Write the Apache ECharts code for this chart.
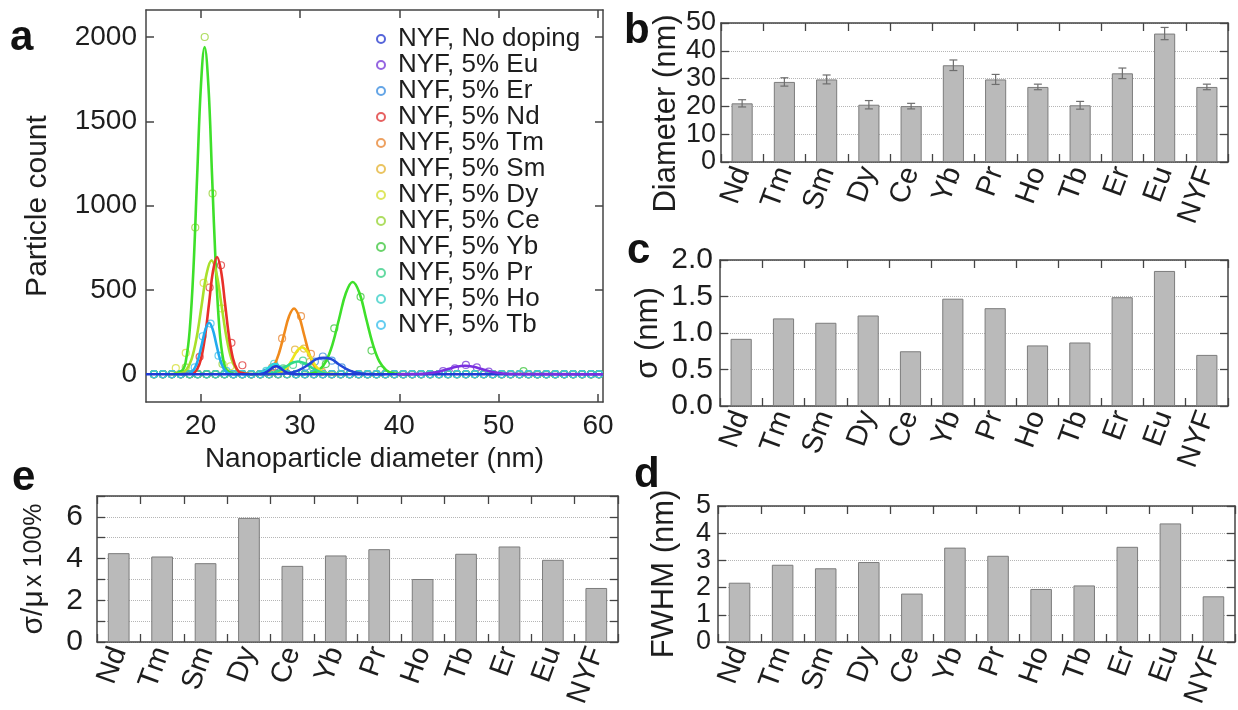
<!DOCTYPE html>
<html><head><meta charset="utf-8">
<script src="https://cdn.jsdelivr.net/npm/echarts@6/dist/echarts.min.js"></script>
<style>html,body{margin:0;padding:0;background:#fff}#c{width:1238px;height:710px}</style>
</head><body><div id="c"></div>
<script>
// ---------- bar panels data ----------
const elements = ['Nd','Tm','Sm','Dy','Ce','Yb','Pr','Ho','Tb','Er','Eu','NYF'];
const diameter = [21.1, 28.8, 29.7, 20.6, 20.1, 34.8, 29.7, 27.0, 20.4, 31.9, 46.2, 27.0];
const diameterErr = [1.3, 1.5, 1.6, 1.5, 1.0, 1.9, 1.8, 1.0, 1.4, 1.9, 2.2, 1.0];
const sigma = [0.92, 1.20, 1.14, 1.24, 0.75, 1.47, 1.34, 0.83, 0.87, 1.49, 1.85, 0.70];
const cvPercent = [4.26, 4.10, 3.78, 5.95, 3.65, 4.15, 4.45, 3.02, 4.23, 4.58, 3.94, 2.59];
const fwhm = [2.18, 2.84, 2.71, 2.94, 1.78, 3.47, 3.17, 1.95, 2.08, 3.50, 4.36, 1.68];

// ---------- panel a data ----------
const seriesNames = ['NYF, No doping','NYF, 5% Eu','NYF, 5% Er','NYF, 5% Nd','NYF, 5% Tm','NYF, 5% Sm',
  'NYF, 5% Dy','NYF, 5% Ce','NYF, 5% Yb','NYF, 5% Pr','NYF, 5% Ho','NYF, 5% Tb'];
const xTicksA = [20, 30, 40, 50, 60];
const yTicksA = [0, 500, 1000, 1500, 2000];
const baselineX = [15.3,16.2,17.1,18.0,18.9,19.7,20.6,21.5,22.4,23.3,24.2,25.1,26.0,26.9,27.8,28.7,29.6,30.5,
  31.4,32.3,33.2,34.1,35.0,35.9,36.8,37.7,38.6,39.5,40.4,41.3,42.2,43.1,44.0,44.9,45.8,46.7,47.6,48.5,49.4,
  50.3,51.2,52.1,53.0,53.9,54.8,55.7,56.6,57.5,58.4,59.3,60.1];

// histogram points (non-zero part), per series
const ptsNoDoping = [[26.6,10],[27.5,45],[28.4,22]];
const ptsEu = [[44.4,18],[45.6,35],[46.7,55],[47.8,40],[49.0,15]];
const ptsEr = [[30.6,45],[31.5,75],[32.3,105],[33.2,80],[34.2,40]];
const ptsNd = [[19.9,103],[20.9,514],[22.05,646],[23.1,186],[24.2,53]];
const ptsTm = [[27.2,40],[28.2,212],[30.1,344],[31.1,120],[32.2,15]];
const ptsSm = [[28.5,30],[29.5,146],[30.4,152],[31.0,73],[32.0,15]];
const ptsDy = [[17.5,36],[18.5,126],[20.3,541],[22.1,390],[23.0,47]];
const ptsCe = [[18.5,40],[19.46,870],[20.41,2000],[21.2,1072],[22.2,60]];
const ptsYb = [[32.6,60],[33.45,272],[36.1,459],[37.2,140],[38.1,25],[52.5,18]];
const ptsPr = [[28.3,35],[29.3,55],[30.3,80],[31.3,40]];
const ptsHo = [[26.6,20],[27.4,62],[28.3,25]];
const ptsTb = [[19.4,40],[20.2,225],[21.0,300],[21.8,110],[22.6,20]];

// fitted curves
const fitNoDoping = [[14.5,0],[25.8,0],[26.1,2],[26.4,6],[26.7,15],[27.0,28],[27.3,41],[27.6,47],[27.9,41],[28.2,28],[28.5,15],[28.8,6],[29.1,2],[29.4,0],[60.5,0]];
const fitEu = [[39.8,0],[41.5,1],[42.35,2],[43.2,7],[44.05,16],[44.9,30],[45.75,44],[46.6,50],[47.45,44],[48.3,30],[49.15,16],[50.0,7],[50.85,2],[51.7,1],[60.5,0]];
const fitEr = [[26,0],[27.9,1],[28.65,4],[29.4,13],[30.15,31],[30.9,59],[31.65,89],[32.4,97],[33.15,89],[33.9,59],[34.65,31],[35.4,13],[36.15,4],[36.9,1],[38.5,0]];
const fitNd = [[18,0],[19.25,8],[19.65,30],[20.05,94],[20.45,226],[20.85,422],[21.25,613],[21.65,695],[22.05,613],[22.45,422],[22.85,226],[23.25,94],[23.65,30],[24.05,8],[25.3,0]];
const fitTm = [[25,0],[26.4,4],[26.9,17],[27.4,53],[27.9,127],[28.4,237],[28.9,344],[29.4,390],[29.9,344],[30.4,237],[30.9,127],[31.4,53],[31.9,17],[32.4,4],[33.8,0]];
const fitSm = [[26.5,0],[27.5,2],[27.95,7],[28.4,22],[28.85,52],[29.3,97],[29.75,141],[30.2,160],[30.65,141],[31.1,97],[31.55,52],[32.0,22],[32.45,7],[32.9,2],[34,0]];
const fitDy = [[16.8,0],[18.1,7],[18.6,30],[19.1,91],[19.6,219],[20.1,409],[20.6,596],[21.1,675],[21.6,596],[22.1,409],[22.6,219],[23.1,91],[23.6,30],[24.1,7],[25.4,0]];
const fitCe = [[17.2,0],[18.15,22],[18.53,85],[18.9,262],[19.28,630],[19.65,1177],[20.03,1712],[20.4,1940],[20.78,1712],[21.15,1177],[21.53,630],[21.9,262],[22.28,85],[22.65,22],[23.6,0]];
const fitYb = [[29.5,0],[31.25,6],[31.93,24],[32.6,74],[33.28,178],[33.95,332],[34.63,483],[35.3,547],[35.98,483],[36.65,332],[37.33,178],[38.0,74],[38.68,24],[39.35,6],[41,0]];
const fitPr = [[25,0],[26.2,1],[26.8,3],[27.4,10],[28.0,24],[28.6,45],[29.2,66],[29.8,75],[30.4,66],[31.0,45],[31.6,24],[32.2,10],[32.8,3],[33.4,1],[34.8,0]];
const fitHo = [[24.2,0],[25.5,1],[25.83,3],[26.15,8],[26.48,19],[26.8,36],[27.13,53],[27.45,60],[27.78,53],[28.1,36],[28.43,19],[28.75,8],[29.08,3],[29.4,1],[30.5,0]];
const fitTb = [[17.6,0],[18.75,3],[19.1,13],[19.45,41],[19.8,99],[20.15,185],[20.5,269],[20.85,305],[21.2,269],[21.55,185],[21.9,99],[22.25,41],[22.6,13],[22.95,3],[24,0]];

const pointColors = ['#2c3fd0','#7a3fd8','#3d8fe0','#e03a3a','#e8893a','#e5b53a','#d6e03a','#9ad43a','#45c845','#3dd08a','#3dd0c8','#3dc0ec'];
const curveColors = ['#1f3ad6','#7a2fe0','#2248d8','#e8302a','#f08a1c','#ece41c','#a8e02a','#3ee02a','#3ee02a','#2edc8a','#2ad4e0','#22aaee'];

const allPts = [ptsNoDoping, ptsEu, ptsEr, ptsNd, ptsTm, ptsSm, ptsDy, ptsCe, ptsYb, ptsPr, ptsHo, ptsTb];
const allFits = [fitNoDoping, fitEu, fitEr, fitNd, fitTm, fitSm, fitDy, fitCe, fitYb, fitPr, fitHo, fitTb];

// ---------- build ----------
const FONT = 'Liberation Sans';
const TXT = '#1e1e1e';
const AX = '#444';

function histPoints(pts) {
  const lo = pts[0][0] - 0.5, hi = pts[pts.length - 1][0] + 0.5;
  const zeros = baselineX.filter(x => x < lo || x > hi).map(x => [x, 0]);
  return zeros.concat(pts).sort((a, b) => a[0] - b[0]);
}

const grids = [
  {left: 146, top: 10, width: 457, height: 392},   // a
  {left: 721, top: 23, width: 507, height: 139},   // b
  {left: 720, top: 260, width: 508, height: 146},  // c
  {left: 97, top: 496, width: 521, height: 146},   // e
  {left: 718, top: 506, width: 517, height: 136}   // d
].map(g => Object.assign({outerBoundsMode: 'none', containLabel: false}, g));

const lineStyleAx = {color: AX, width: 1.5};
const xAxes = [], yAxes = [];

// panel a axes
xAxes.push({gridIndex: 0, type: 'value', min: 14.5, max: 60.5, position: 'bottom',
  axisLine: {show: true, onZero: false, lineStyle: lineStyleAx},
  axisTick: {show: true, inside: true, length: 8, customValues: xTicksA, lineStyle: {color: AX, width: 1.5}},
  axisLabel: {customValues: xTicksA, fontSize: 28, fontFamily: FONT, color: TXT, margin: 10, formatter: v => String(v)},
  splitLine: {show: false},
  name: 'Nanoparticle diameter (nm)', nameLocation: 'middle', nameGap: 41,
  nameTextStyle: {fontSize: 28, fontFamily: FONT, color: TXT}});
xAxes.push({gridIndex: 0, type: 'value', min: 14.5, max: 60.5, position: 'top',
  axisLine: {show: true, onZero: false, lineStyle: lineStyleAx},
  axisTick: {show: true, inside: true, length: 8, customValues: xTicksA, lineStyle: {color: AX, width: 1.5}},
  axisLabel: {show: false}, splitLine: {show: false}});
yAxes.push({gridIndex: 0, type: 'value', min: -165, max: 2160, position: 'left',
  axisLine: {show: true, onZero: false, lineStyle: lineStyleAx},
  axisTick: {show: true, inside: true, length: 8, customValues: yTicksA, lineStyle: {color: AX, width: 1.5}},
  axisLabel: {customValues: yTicksA, fontSize: 28, fontFamily: FONT, color: TXT, margin: 9, formatter: v => String(v)},
  splitLine: {show: false},
  name: 'Particle count', nameLocation: 'middle', nameGap: 93,
  nameTextStyle: {fontSize: 30, fontFamily: FONT, color: TXT}});
yAxes.push({gridIndex: 0, type: 'value', min: -165, max: 2160, position: 'right',
  axisLine: {show: true, onZero: false, lineStyle: lineStyleAx},
  axisTick: {show: true, inside: true, length: 8, customValues: yTicksA, lineStyle: {color: AX, width: 1.5}},
  axisLabel: {show: false}, splitLine: {show: false}});

// bar panel axes
function barAxes(gi, yMin, yMax, yInt, labelSize, yName, nameGap, labelFmt, labelMargin, nameStyle) {
  xAxes.push({gridIndex: gi, type: 'category', data: elements, position: 'bottom',
    axisLine: {show: true, onZero: false, lineStyle: lineStyleAx},
    axisTick: {show: true, inside: true, length: 8, alignWithLabel: false, lineStyle: {color: AX, width: 1.3}},
    axisLabel: {rotate: 70, interval: 0, fontSize: 29, fontFamily: FONT, color: TXT, margin: 6},
    splitLine: {show: false}});
  xAxes.push({gridIndex: gi, type: 'category', data: elements, position: 'top',
    axisLine: {show: true, onZero: false, lineStyle: lineStyleAx},
    axisTick: {show: true, inside: true, length: 8, alignWithLabel: false, lineStyle: {color: AX, width: 1.3}},
    axisLabel: {show: false}, splitLine: {show: false}});
  yAxes.push({gridIndex: gi, type: 'value', min: yMin, max: yMax, interval: yInt, position: 'left',
    axisLine: {show: true, onZero: false, lineStyle: lineStyleAx},
    axisTick: {show: true, inside: true, length: 8, lineStyle: {color: AX, width: 1.3}},
    axisLabel: {fontSize: labelSize, fontFamily: FONT, color: TXT, margin: labelMargin,
      formatter: labelFmt, showMinLabel: true, showMaxLabel: true, hideOverlap: false},
    splitLine: {show: true, lineStyle: {type: 'dotted', color: '#b5b5b5', width: 1}},
    name: yName, nameLocation: 'middle', nameGap: nameGap,
    nameTextStyle: nameStyle || {fontSize: 31, fontFamily: FONT, color: TXT}});
  yAxes.push({gridIndex: gi, type: 'value', min: yMin, max: yMax, interval: yInt, position: 'right',
    axisLine: {show: true, onZero: false, lineStyle: lineStyleAx},
    axisTick: {show: true, inside: true, length: 8, lineStyle: {color: AX, width: 1.3}},
    axisLabel: {show: false}, splitLine: {show: false}});
}
barAxes(1, 0, 50, 10, 27, 'Diameter (nm)', 38, v => String(v), 5,
  {fontSize: 31, fontFamily: FONT, color: TXT, padding: [0, 42, 0, 0]});
barAxes(2, 0, 2, 0.5, 30, 'σ (nm)', 56, v => v.toFixed(1), 7);
barAxes(3, 0, 7, 1, 30, '{a|σ/μ} {b|x 100%}', 48, v => (v % 2 === 0 && v < 7) ? String(v) : '', 14,
  {fontFamily: FONT, color: TXT, rich: {a: {fontSize: 30, fontFamily: FONT, color: TXT}, b: {fontSize: 25, fontFamily: FONT, color: TXT}}});
barAxes(4, 0, 5, 1, 27, 'FWHM (nm)', 38, v => String(v), 7);

const series = [];
// curves (not in legend)
const curveOrder = [8, 7, 6, 3, 11, 4, 5, 9, 10, 2, 0, 1];
curveOrder.forEach(i => {
  series.push({type: 'line', name: 'fit ' + seriesNames[i], xAxisIndex: 0, yAxisIndex: 0,
    data: allFits[i], smooth: 0.4, showSymbol: false, silent: true, z: 4,
    lineStyle: {color: curveColors[i], width: 2.6}, itemStyle: {color: curveColors[i]}});
});
// histogram points
seriesNames.forEach((n, i) => {
  series.push({type: 'scatter', name: n, xAxisIndex: 0, yAxisIndex: 0,
    data: histPoints(allPts[i]), symbol: 'circle', symbolSize: 7, z: 3,
    itemStyle: {color: 'rgba(255,255,255,0)', borderColor: pointColors[i], borderWidth: 1.2, opacity: 0.8}});
});

// bars
const barStyle = {color: '#bababa', borderColor: '#7c7c7c', borderWidth: 1};
const barSets = [[1, diameter], [2, sigma], [3, cvPercent], [4, fwhm]];
barSets.forEach(([gi, vals]) => {
  series.push({type: 'bar', xAxisIndex: gi * 2, yAxisIndex: gi * 2, data: vals,
    barWidth: '50%', itemStyle: barStyle, silent: true});
});
// error bars on diameter
series.push({type: 'custom', xAxisIndex: 2, yAxisIndex: 2, silent: true, z: 5,
  data: elements.map((e, i) => [i, diameter[i] - diameterErr[i], diameter[i] + diameterErr[i]]),
  encode: {x: 0, y: [1, 2]},
  renderItem: (params, api) => {
    const lo = api.coord([api.value(0), api.value(1)]);
    const hi = api.coord([api.value(0), api.value(2)]);
    const w = 4;
    const st = {stroke: '#6e6e6e', lineWidth: 1.2};
    return {type: 'group', children: [
      {type: 'line', shape: {x1: lo[0], y1: lo[1], x2: hi[0], y2: hi[1]}, style: st},
      {type: 'line', shape: {x1: lo[0] - w, y1: lo[1], x2: lo[0] + w, y2: lo[1]}, style: st},
      {type: 'line', shape: {x1: hi[0] - w, y1: hi[1], x2: hi[0] + w, y2: hi[1]}, style: st}
    ]};
  }});

const letterFont = 'bold 42px "Liberation Sans"';
const letters = [['a', 10, 38], ['b', 624, 31], ['c', 627, 251], ['e', 12, 478], ['d', 634, 475]];

const chart = echarts.init(document.getElementById('c'), null, {renderer: 'canvas'});
chart.setOption({
  animation: false,
  backgroundColor: '#fff',
  textStyle: {fontFamily: FONT},
  grid: grids,
  xAxis: xAxes,
  yAxis: yAxes,
  legend: {data: seriesNames, orient: 'vertical', left: 376, top: 26, itemGap: 0,
    itemWidth: 8, itemHeight: 8, selectedMode: false, padding: 0,
    textStyle: {fontSize: 26, fontFamily: FONT, color: TXT, lineHeight: 26, padding: [0, 0, 0, 8]}},
  graphic: letters.map(([t, x, y]) => ({type: 'text', left: x, top: y - 21,
    style: {text: t, font: letterFont, fill: '#111'}})),
  series: series
});
</script></body></html>
